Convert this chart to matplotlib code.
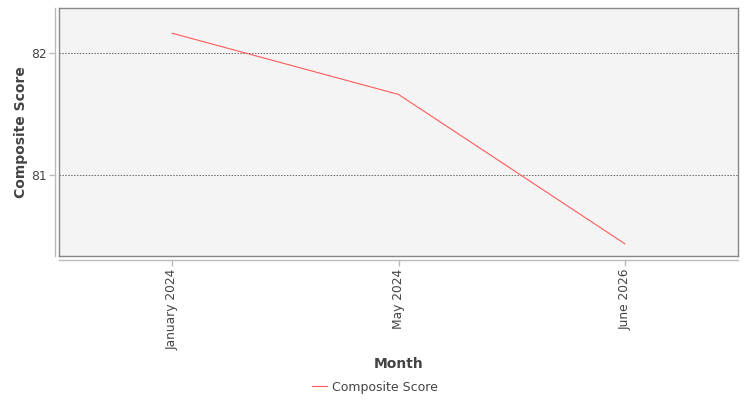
import matplotlib.pyplot as plt
from matplotlib.lines import Line2D

months = ["January 2024", "May 2024", "June 2026"]
scores = [82.16, 81.66, 80.44]

txt = "#444444"

fig = plt.figure(figsize=(7.5, 4), dpi=100)
ax = fig.add_axes([59 / 750, 1 - 256 / 400, (738 - 59) / 750, (256 - 8) / 400])
ax.set_facecolor("#f4f4f4")

x = list(range(len(months)))
ax.plot(x, scores, color="#ff5a5a", linewidth=0.8, label="Composite Score")

# box border
for s in ["top", "right"]:
    ax.spines[s].set_color("#888888")
    ax.spines[s].set_linewidth(1)
ax.plot([0, 0], [0, 1], transform=ax.transAxes, color="#888888", linewidth=1, clip_on=False)
ax.plot([0, 1], [0, 0], transform=ax.transAxes, color="#888888", linewidth=1, clip_on=False)
# offset axis lines
for s in ["left", "bottom"]:
    ax.spines[s].set_position(("outward", 3))
    ax.spines[s].set_color("#bbbbbb")
    ax.spines[s].set_linewidth(1)

ax.set_xlim(-0.5, len(months) - 0.5)
ax.set_ylim(80.34, 82.366)
ax.set_xticks(x)
ax.set_xticklabels(months)
ax.set_yticks([81, 82])
ax.set_yticklabels(["81", "82"])
ax.tick_params(axis="both", color="#bbbbbb", length=4, width=1, pad=2,
               labelsize=8.8, labelcolor=txt)
ax.tick_params(axis="x", labelrotation=90)
ax.grid(axis="y", linestyle=(0, (1.5, 1.5)), color="#666666", linewidth=0.7)
ax.set_axisbelow(True)

ax.set_xlabel("Month", fontsize=10, fontweight="bold", color=txt)
ax.set_ylabel("Composite Score", fontsize=10, fontweight="semibold", color=txt)
ax.xaxis.set_label_coords(0.5, (256 - 357) / 248)
ax.yaxis.set_label_coords((28 - 59) / 679, 0.5)

handle = Line2D([], [], color="#ff5a5a", linewidth=0.8)
fig.legend([handle], ["Composite Score"], loc="center", bbox_to_anchor=(375 / 750, 1 - 387 / 400),
           frameon=False, fontsize=9, labelcolor=txt, handlelength=1.2, handletextpad=0.4)

fig.savefig("out.png", dpi=100)
